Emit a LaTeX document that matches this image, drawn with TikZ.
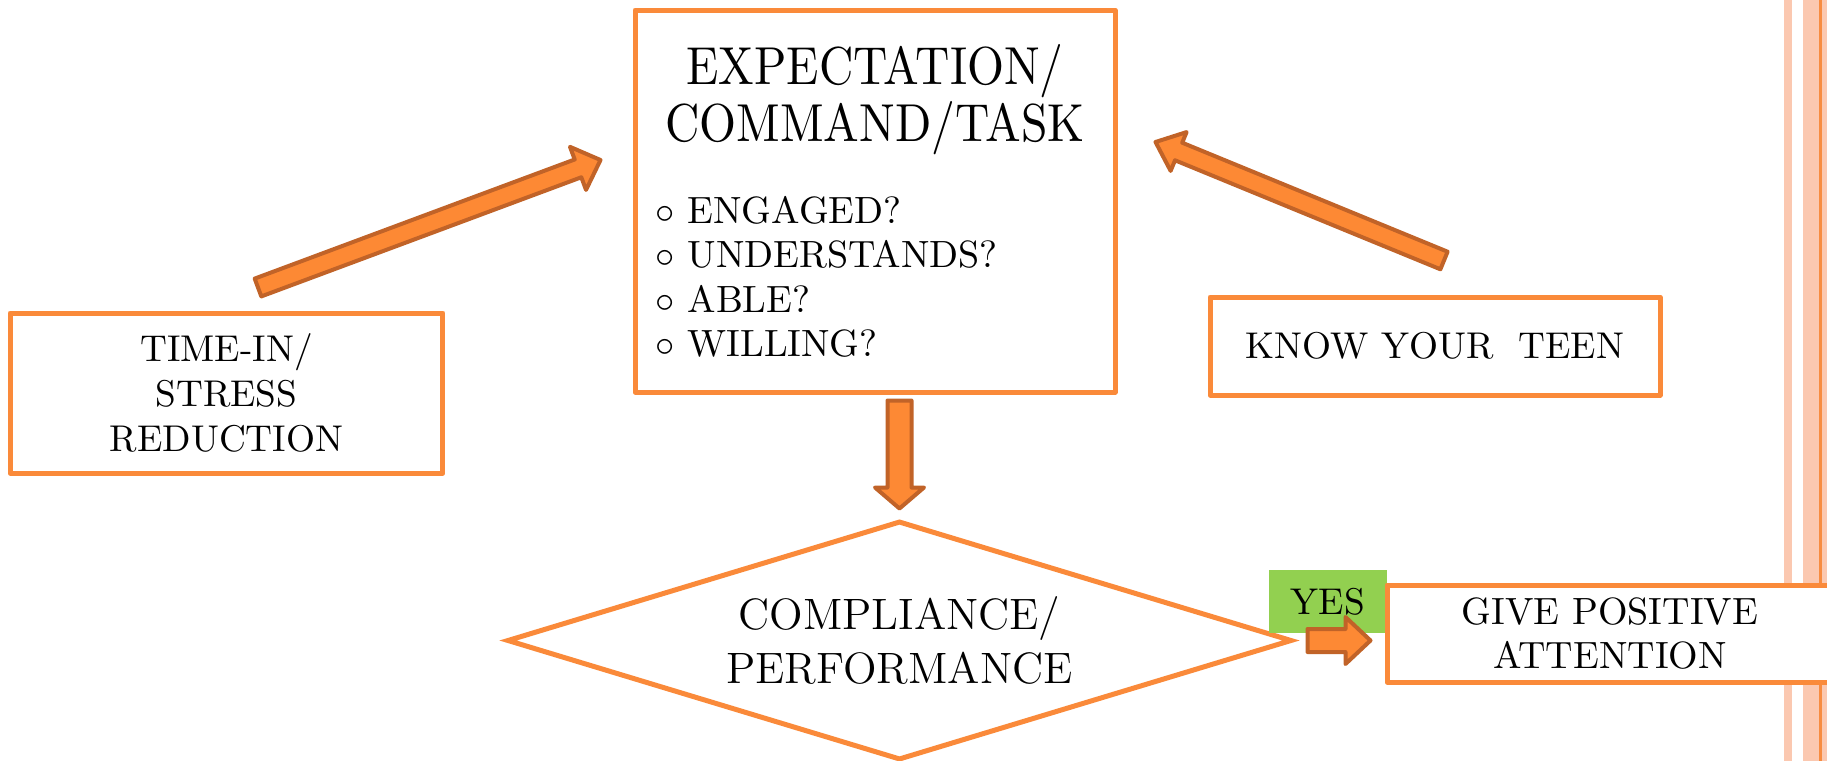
\documentclass[tikz,border=0pt]{standalone}
\usepackage{fontspec}
\usetikzlibrary{shapes.geometric,calc}
\newfontfamily\titlefont{lmroman10-regular.otf}[FakeStretch=0.89]

\definecolor{boxorange}{RGB}{250,138,58}
\definecolor{arrowfill}{RGB}{253,137,52}
\definecolor{arrowedge}{RGB}{193,99,40}
\definecolor{yesgreen}{RGB}{146,208,80}
\definecolor{stripelight}{RGB}{251,200,176}
\definecolor{stripedark}{RGB}{247,140,64}

\tikzset{
  box/.style={draw=boxorange, line width=0.5mm, fill=white, line join=round, align=center, inner sep=0pt},
  blockarrow/.style={draw=arrowedge, fill=arrowfill, line width=0.4mm, line join=round},
  asktext/.style={anchor=base west, inner sep=0pt, font=\fontsize{10.8}{12.7}\selectfont},
}

% block arrow: tail, tip, half shaft, half head, head length
\newcommand{\bigarrow}[5]{%
  \coordinate (ab) at ($(#2)!#5!(#1)$);
  \draw[blockarrow] ($(#1)!#3!-90:(#2)$) -- ($(ab)!#3!-90:(#2)$) -- ($(ab)!#4!-90:(#2)$) -- (#2)
    -- ($(ab)!#4!90:(#2)$) -- ($(ab)!#3!90:(#2)$) -- ($(#1)!#3!90:(#2)$) -- cycle;}

\begin{document}
\begin{tikzpicture}[x=0.1mm, y=-0.1mm]
\useasboundingbox (0,0) rectangle (1827,761);
% stripes at the right edge
\fill[stripelight] (1784,0) rectangle (1792,761);
\fill[stripelight] (1803,0) rectangle (1827,761);
\fill[stripedark] (1819,0) rectangle (1822,761);

\node[box, minimum width=48mm, minimum height=38.2mm] (task) at (875,201) {};
\node[align=center, font=\titlefont\fontsize{15.2}{14.6}\selectfont] (tasktitle) at (875,100) {EXPECTATION/\\COMMAND/TASK};
\foreach \q [count=\i] in {ENGAGED?, UNDERSTANDS?, ABLE?, WILLING?}
  \node[asktext] (ask\i) at (655,{223+44.5*(\i-1)}) {$\circ$\ \q};

\node[box, minimum width=43.3mm, minimum height=16mm, font=\fontsize{10.6}{12.7}\selectfont] (stress) at (226.5,393) {TIME-IN/\\STRESS\\REDUCTION};
\node[box, minimum width=45mm, minimum height=9.8mm, font=\fontsize{10.6}{12.7}\selectfont] (teen) at (1435,346) {KNOW YOUR\ \ TEEN};
\node[diamond, aspect=3.3, draw=boxorange, line width=0.5mm, fill=white, minimum width=78.5mm, minimum height=23.9mm,
  inner sep=0pt, align=center, font=\fontsize{12.5}{15.1}\selectfont] (check) at (899.5,640.5) {COMPLIANCE/\\PERFORMANCE};
\node[fill=yesgreen, minimum width=11.8mm, minimum height=6.3mm, inner sep=0pt, font=\fontsize{10.6}{12.7}\selectfont] (yes) at (1328,601.5) {YES};
\node[box, minimum width=44.6mm, minimum height=9.7mm, font=\fontsize{10.8}{12.5}\selectfont] (give) at (1610,633.5) {GIVE POSITIVE\\ATTENTION};

\coordinate (stressout) at ($(stress.north)+(31.5,-23)$);
\coordinate (taskleft) at ($(task.west)+(-32,-41)$);
\coordinate (teenout) at ($(teen.north)+(9,-34)$);
\coordinate (taskright) at ($(task.east)+(38,-59)$);
\coordinate (taskout) at ($(check.north |- task.south)+(0,6)$);
\coordinate (checkin) at ($(check.north)+(0,-10)$);
\coordinate (checkout) at ($(check.east)+(13,0)$);
\coordinate (givein) at ($(give.west |- check.east)+(-14,0)$);

\bigarrow{stressout}{taskleft}{0.95mm}{2.3mm}{2.4mm}
\bigarrow{teenout}{taskright}{0.95mm}{2.1mm}{2.5mm}
\bigarrow{taskout}{checkin}{1.2mm}{2.45mm}{2.1mm}
\bigarrow{checkout}{givein}{1.15mm}{2.35mm}{2.5mm}
\end{tikzpicture}
\end{document}
